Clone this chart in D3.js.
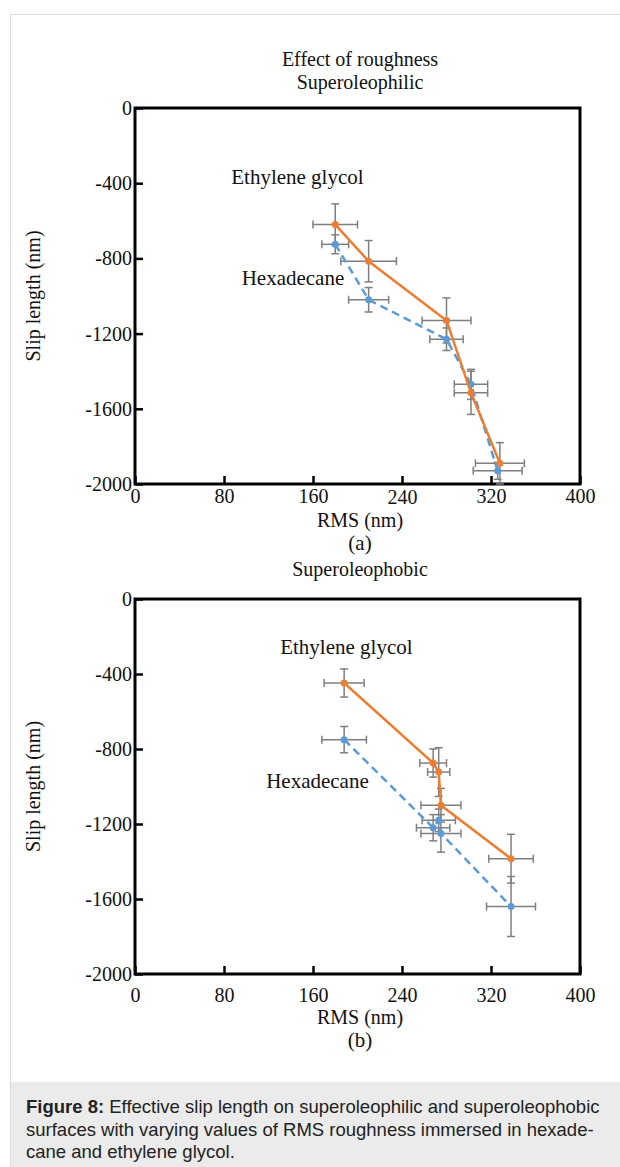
<!DOCTYPE html>
<html>
<head>
<meta charset="utf-8">
<script src="https://cdn.jsdelivr.net/npm/d3@7"></script>
<style>
  body { margin: 0; background: #fff; }
  svg { display: block; }
  .serif { font-family: "Liberation Serif", "Times New Roman", serif; fill: #111; }
</style>
</head>
<body>
<div class="canvas"></div>
<script>
// ---- data ----
const xTicks = [0, 80, 160, 240, 320, 400];
const yTicks = [0, -400, -800, -1200, -1600, -2000];

// (a) superoleophilic
const rmsA_eg = [180, 210, 280, 302, 328];
const slipA_eg = [-620, -815, -1130, -1515, -1890];
const rmsErrA_eg = [20, 25, 22, 15, 22];
const slipErrA_eg = [110, 110, 120, 115, 110];
const rmsA_hx = [180, 210, 280, 302, 326];
const slipA_hx = [-725, -1020, -1230, -1470, -1930];
const rmsErrA_hx = [12, 18, 15, 15, 22];
const slipErrA_hx = [50, 65, 60, 80, 45];

// (b) superoleophobic
const rmsB_eg = [188, 268, 273, 275, 338];
const slipB_eg = [-448, -875, -923, -1100, -1385];
const rmsErrB_eg = [18, 12, 10, 18, 20];
const slipErrB_eg = [75, 75, 130, 90, 130];
const rmsB_hx = [188, 268, 273, 275, 338];
const slipB_hx = [-750, -1220, -1180, -1250, -1640];
const rmsErrB_hx = [20, 15, 15, 18, 22];
const slipErrB_hx = [70, 70, 60, 100, 160];

const orange = '#ed7d31';
const blue = '#5b9bd5';
const errCol = '#7f7f7f';

const W = 620, H = 1167;

const svg = d3.select('.canvas')
	.append('svg')
	.attr('width', W)
	.attr('height', H);

// page frame + caption box
svg.append('rect')
	.attr('x', 10.5).attr('y', 14.5)
	.attr('width', 640).attr('height', 1200)
	.attr('fill', '#fff')
	.attr('stroke', '#dcdcdc');
svg.append('rect')
	.attr('x', 11).attr('y', 1082)
	.attr('width', 620).attr('height', 100)
	.attr('fill', '#ebebeb');

function zip(xs, ys, xe, ye) {
	return xs.map((x, i) => ({ x: x, y: ys[i], xe: xe[i], ye: ye[i] }));
}

function panel(p) {
	const top = p.top, bottom = p.bottom;
	const x = d3.scaleLinear().domain([0, 400]).range([135, 580]);
	const y = d3.scaleLinear().domain([-2000, 0]).range([bottom, top]);
	const g = svg.append('g');

	// titles above the plot
	p.titles.forEach(t => {
		g.append('text').attr('class', 'serif')
			.attr('x', 360).attr('y', t.y)
			.attr('text-anchor', 'middle')
			.style('font-size', '20px')
			.text(t.text);
	});

	// axes with inward ticks
	const ax = g.append('g')
		.attr('transform', `translate(0,${bottom})`)
		.call(d3.axisBottom(x).tickValues(xTicks).tickSize(-8).tickPadding(p.xPad)
			.tickSizeOuter(0).tickFormat(d => String(d)));
	const ay = g.append('g')
		.attr('transform', `translate(135,0)`)
		.call(d3.axisLeft(y).tickValues(yTicks).tickSize(-8).tickPadding(3)
			.tickSizeOuter(0).tickFormat(d => String(d)));
	[ax, ay].forEach(a => {
		a.select('.domain').remove();
		a.selectAll('line').attr('stroke', '#000').attr('stroke-width', 2.5);
		a.selectAll('text').attr('class', 'serif')
			.style('font-size', '20px').attr('fill', '#111');
	});
	ax.selectAll('text').attr('dy', d => (d === 240 ? p.dip : 0) + 14);

	// plot frame
	g.append('rect')
		.attr('x', x(0)).attr('y', y(0))
		.attr('width', x(400) - x(0)).attr('height', y(-2000) - y(0))
		.attr('fill', 'none').attr('stroke', '#000').attr('stroke-width', 3);

	// axis titles
	g.append('text').attr('class', 'serif')
		.attr('transform', `translate(40,${(top + bottom) / 2}) rotate(-90)`)
		.attr('text-anchor', 'middle')
		.style('font-size', '20px')
		.text('Slip length (nm)');
	g.append('text').attr('class', 'serif')
		.attr('x', 360).attr('y', bottom + p.rmsDy)
		.attr('text-anchor', 'middle')
		.style('font-size', '20px')
		.text('RMS (nm)');
	g.append('text').attr('class', 'serif')
		.attr('x', 360).attr('y', bottom + p.tagDy)
		.attr('text-anchor', 'middle')
		.style('font-size', '21px')
		.text(p.tag);

	const line = d3.line().x(d => x(d.x)).y(d => y(d.y));

	p.series.forEach(s => {
		const eb = g.append('g');
		s.data.forEach(d => {
			const cap = 4;
			eb.append('line').attr('x1', x(d.x - d.xe)).attr('x2', x(d.x + d.xe))
				.attr('y1', y(d.y)).attr('y2', y(d.y));
			eb.append('line').attr('x1', x(d.x - d.xe)).attr('x2', x(d.x - d.xe))
				.attr('y1', y(d.y) - cap).attr('y2', y(d.y) + cap);
			eb.append('line').attr('x1', x(d.x + d.xe)).attr('x2', x(d.x + d.xe))
				.attr('y1', y(d.y) - cap).attr('y2', y(d.y) + cap);
			eb.append('line').attr('x1', x(d.x)).attr('x2', x(d.x))
				.attr('y1', y(d.y + d.ye)).attr('y2', y(d.y - d.ye));
			eb.append('line').attr('x1', x(d.x) - cap).attr('x2', x(d.x) + cap)
				.attr('y1', y(d.y + d.ye)).attr('y2', y(d.y + d.ye));
			eb.append('line').attr('x1', x(d.x) - cap).attr('x2', x(d.x) + cap)
				.attr('y1', y(d.y - d.ye)).attr('y2', y(d.y - d.ye));
		});
		eb.selectAll('line').attr('stroke', errCol).attr('stroke-width', 1.5);
	});

	p.series.forEach(s => {
		g.append('path')
			.datum(s.data)
			.attr('d', line)
			.attr('fill', 'none')
			.attr('stroke', s.color)
			.attr('stroke-width', 2.5)
			.attr('stroke-dasharray', s.dash || null);
		g.selectAll(null)
			.data(s.data)
			.enter()
			.append('circle')
			.attr('cx', d => x(d.x))
			.attr('cy', d => y(d.y))
			.attr('r', 3.5)
			.attr('fill', s.color);
	});

	p.labels.forEach(l => {
		g.append('text').attr('class', 'serif')
			.attr('x', x(l.x)).attr('y', y(l.y))
			.attr('text-anchor', 'middle')
			.style('font-size', '21px')
			.text(l.text);
	});
}

panel({
	top: 108, bottom: 484, tag: '(a)',
	xPad: 5, dip: 1, rmsDy: 43, tagDy: 66,
	series: [
		{ color: blue, dash: '8,5', data: zip(rmsA_hx, slipA_hx, rmsErrA_hx, slipErrA_hx) },
		{ color: orange, data: zip(rmsA_eg, slipA_eg, rmsErrA_eg, slipErrA_eg) }
	],
	labels: [
		{ text: 'Ethylene glycol', x: 146, y: -404 },
		{ text: 'Hexadecane', x: 142, y: -942 }
	],
	titles: [
		{ text: 'Effect of roughness', y: 66 },
		{ text: 'Superoleophilic', y: 89 }
	]
});

panel({
	top: 599, bottom: 974, tag: '(b)',
	xPad: 14, dip: 0, rmsDy: 50, tagDy: 73,
	series: [
		{ color: blue, dash: '8,5', data: zip(rmsB_hx, slipB_hx, rmsErrB_hx, slipErrB_hx) },
		{ color: orange, data: zip(rmsB_eg, slipB_eg, rmsErrB_eg, slipErrB_eg) }
	],
	labels: [
		{ text: 'Ethylene glycol', x: 190, y: -293 },
		{ text: 'Hexadecane', x: 164, y: -1008 }
	],
	titles: [
		{ text: 'Superoleophobic', y: 576 }
	]
});

// caption
const cap = svg.append('text')
	.style('font-family', '"Liberation Sans", Arial, sans-serif')
	.style('font-size', '18.5px')
	.attr('fill', '#222');
const capLines = [
	[['Figure 8:', true], [' Effective slip length on superoleophilic and superoleophobic', false]],
	[['surfaces with varying values of RMS roughness immersed in hexade-', false]],
	[['cane and ethylene glycol.', false]]
];
capLines.forEach((ln, i) => {
	ln.forEach((part, j) => {
		const ts = cap.append('tspan').text(part[0]);
		if (j === 0) ts.attr('x', 26).attr('y', 1113 + i * 22.5);
		if (part[1]) ts.style('font-weight', 'bold');
	});
});
</script>
</body>
</html>
